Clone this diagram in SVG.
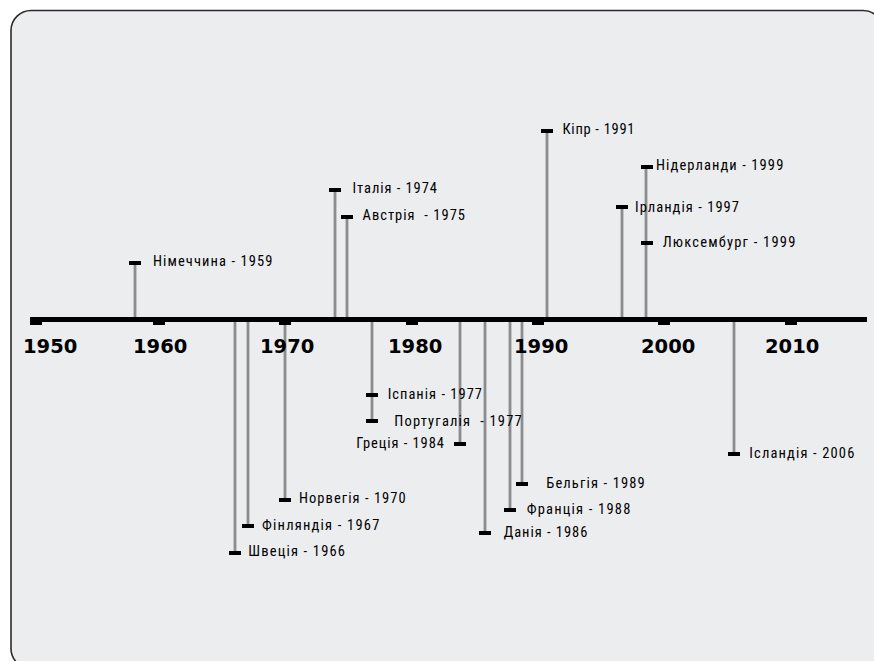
<svg xmlns="http://www.w3.org/2000/svg" width="874" height="661" viewBox="0 0 874 661">
<style>
.frame{fill:#ecedef;stroke:#2b2b2b;stroke-width:1.6}
.stem{stroke:#8c8c8c;stroke-width:2.8;fill:none}
.bar{fill:#000}
.axis{fill:#000}
.yr{font-family:"DejaVu Sans",Verdana,sans-serif;font-weight:bold;font-size:19.5px;fill:#000}
.lbl{font-family:"Roboto Condensed","DejaVu Sans Condensed","Liberation Sans Narrow","Liberation Sans",sans-serif;font-stretch:condensed;font-size:14.5px;fill:#000}
</style>
<rect class="frame" x="11" y="10.5" width="872" height="658" rx="20" ry="20"/>
<g id="connectors">
<line class="stem" x1="135" y1="263" x2="135" y2="318"/>
<line class="stem" x1="335" y1="190" x2="335" y2="318"/>
<line class="stem" x1="347" y1="217" x2="347" y2="318"/>
<line class="stem" x1="547" y1="131" x2="547" y2="318"/>
<line class="stem" x1="646" y1="167" x2="646" y2="318"/>
<line class="stem" x1="622" y1="207" x2="622" y2="318"/>
<line class="stem" x1="235" y1="321" x2="235" y2="553"/>
<line class="stem" x1="248" y1="321" x2="248" y2="526"/>
<line class="stem" x1="285" y1="321" x2="285" y2="500"/>
<line class="stem" x1="372" y1="321" x2="372" y2="421"/>
<line class="stem" x1="460" y1="321" x2="460" y2="444"/>
<line class="stem" x1="485" y1="321" x2="485" y2="533"/>
<line class="stem" x1="510" y1="321" x2="510" y2="510"/>
<line class="stem" x1="522" y1="321" x2="522" y2="484"/>
<line class="stem" x1="734" y1="321" x2="734" y2="454"/>
</g>
<g id="axis">
<rect class="axis" x="30" y="317" width="837" height="5"/>
<rect class="axis" x="30" y="317" width="12" height="8"/>
<rect class="axis" x="153" y="317" width="12" height="8"/>
<rect class="axis" x="279" y="317" width="12" height="8"/>
<rect class="axis" x="406" y="317" width="12" height="8"/>
<rect class="axis" x="532" y="317" width="12" height="8"/>
<rect class="axis" x="658" y="317" width="12" height="8"/>
<rect class="axis" x="785" y="317" width="12" height="8"/>
<text class="yr" x="23" y="352.5">1950</text>
<text class="yr" x="133" y="352.5">1960</text>
<text class="yr" x="260" y="352.5">1970</text>
<text class="yr" x="388" y="352.5">1980</text>
<text class="yr" x="514" y="352.5">1990</text>
<text class="yr" x="641" y="352.5">2000</text>
<text class="yr" x="765" y="352.5">2010</text>
</g>
<g id="germany"><rect class="bar" x="129" y="261" width="12" height="4"/><text class="lbl" x="153" y="265.5" textLength="119.5" lengthAdjust="spacing">Німеччина - 1959</text></g>
<g id="italy"><rect class="bar" x="329" y="188" width="12" height="4"/><text class="lbl" x="352.5" y="193.3" textLength="84.5" lengthAdjust="spacing">Італія - 1974</text></g>
<g id="austria"><rect class="bar" x="341" y="215" width="12" height="4"/><text class="lbl" x="362.5" y="220.3" textLength="102.5" lengthAdjust="spacing" xml:space="preserve">Австрія  - 1975</text></g>
<g id="cyprus"><rect class="bar" x="541" y="129" width="12" height="4"/><text class="lbl" x="562.5" y="134.3" textLength="72" lengthAdjust="spacing">Кіпр - 1991</text></g>
<g id="netherlands"><rect class="bar" x="641" y="165" width="12" height="4"/><text class="lbl" x="656" y="169.5" textLength="127.3" lengthAdjust="spacing">Нідерланди - 1999</text></g>
<g id="ireland"><rect class="bar" x="616" y="205" width="12" height="4"/><text class="lbl" x="635" y="211.5" textLength="104" lengthAdjust="spacing">Ірландія - 1997</text></g>
<g id="luxembourg"><rect class="bar" x="641" y="241" width="12" height="4"/><text class="lbl" x="662.7" y="246.5" textLength="132.6" lengthAdjust="spacing">Люксембург - 1999</text></g>
<g id="sweden"><rect class="bar" x="229" y="551" width="12" height="4"/><text class="lbl" x="248.3" y="556.3" textLength="96.7" lengthAdjust="spacing">Швеція - 1966</text></g>
<g id="finland"><rect class="bar" x="242" y="524" width="12" height="4"/><text class="lbl" x="262" y="530" textLength="117.3" lengthAdjust="spacing">Фінляндія - 1967</text></g>
<g id="norway"><rect class="bar" x="279" y="498" width="12" height="4"/><text class="lbl" x="299" y="503.3" textLength="106.7" lengthAdjust="spacing">Норвегія - 1970</text></g>
<g id="spain"><rect class="bar" x="366" y="393" width="12" height="4"/><text class="lbl" x="387.7" y="399" textLength="94.3" lengthAdjust="spacing">Іспанія - 1977</text></g>
<g id="portugal"><rect class="bar" x="366" y="419" width="12" height="4"/><text class="lbl" x="394.3" y="426.3" textLength="127.4" lengthAdjust="spacing" xml:space="preserve">Португалія  - 1977</text></g>
<g id="greece"><rect class="bar" x="454" y="442" width="12" height="4"/><text class="lbl" x="356.3" y="448.3" textLength="87.7" lengthAdjust="spacing">Греція - 1984</text></g>
<g id="denmark"><rect class="bar" x="479" y="531" width="12" height="4"/><text class="lbl" x="503.7" y="537" textLength="83.6" lengthAdjust="spacing">Данія - 1986</text></g>
<g id="france"><rect class="bar" x="504" y="508" width="12" height="4"/><text class="lbl" x="526.7" y="514" textLength="103.6" lengthAdjust="spacing">Франція - 1988</text></g>
<g id="belgium"><rect class="bar" x="516" y="482" width="12" height="4"/><text class="lbl" x="546.3" y="488" textLength="98.4" lengthAdjust="spacing">Бельгія - 1989</text></g>
<g id="iceland"><rect class="bar" x="728" y="452" width="12" height="4"/><text class="lbl" x="749.3" y="458.3" textLength="105" lengthAdjust="spacing">Ісландія - 2006</text></g>
</svg>
